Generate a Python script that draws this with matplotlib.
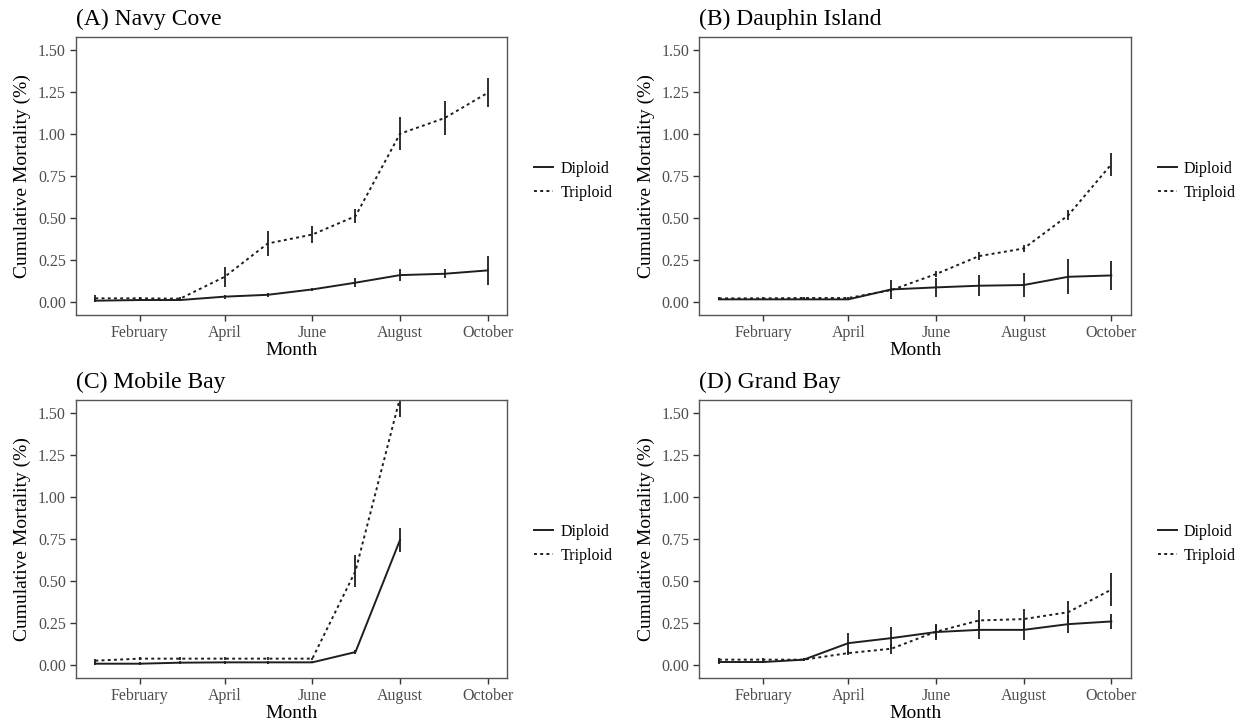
import numpy as np
import matplotlib
matplotlib.use('Agg')
import matplotlib.pyplot as plt
import matplotlib.dates as mdates
from matplotlib.ticker import FormatStrFormatter

plt.rcParams['font.family'] = 'Liberation Serif'

# sampling dates (first of each month)
months = ['2018-01-01', '2018-02-01', '2018-03-01', '2018-04-01', '2018-05-01',
          '2018-06-01', '2018-07-01', '2018-08-01', '2018-09-01', '2018-10-01']
tick_months = ['2018-02-01', '2018-04-01', '2018-06-01', '2018-08-01', '2018-10-01']
tick_labels = ['February', 'April', 'June', 'August', 'October']

nan = np.nan

# (A) Navy Cove
navy_dip = [0.010, 0.014, 0.014, 0.034, 0.045, 0.077, 0.117, 0.162, 0.170, 0.190]
navy_dip_se = [0.010, 0.008, 0.008, 0.012, 0.012, 0.008, 0.027, 0.034, 0.028, 0.084]
navy_tri = [0.024, 0.024, 0.022, 0.152, 0.350, 0.403, 0.512, 1.002, 1.095, 1.245]
navy_tri_se = [0.018, 0.008, 0.008, 0.060, 0.072, 0.052, 0.042, 0.099, 0.099, 0.086]

# (B) Dauphin Island
dauphin_dip = [0.018, 0.018, 0.018, 0.018, 0.077, 0.089, 0.099, 0.103, 0.152, 0.160]
dauphin_dip_se = [0.006, 0.006, 0.006, 0.006, 0.054, 0.056, 0.064, 0.071, 0.103, 0.086]
dauphin_tri = [0.024, 0.024, 0.026, 0.026, 0.073, 0.168, 0.275, 0.320, 0.517, 0.820]
dauphin_tri_se = [0.006, 0.006, 0.006, 0.006, 0.010, 0.020, 0.025, 0.020, 0.030, 0.070]

# (C) Mobile Bay
mobile_dip = [0.010, 0.010, 0.016, 0.018, 0.018, 0.018, 0.079, 0.745, nan, nan]
mobile_dip_se = [0.010, 0.008, 0.008, 0.008, 0.008, 0.006, 0.012, 0.070, nan, nan]
mobile_tri = [0.028, 0.040, 0.040, 0.040, 0.040, 0.040, 0.560, 1.590, nan, nan]
mobile_tri_se = [0.012, 0.008, 0.008, 0.008, 0.008, 0.006, 0.093, 0.115, nan, nan]

# (D) Grand Bay
grand_dip = [0.020, 0.020, 0.034, 0.132, 0.162, 0.198, 0.211, 0.211, 0.245, 0.261]
grand_dip_se = [0.010, 0.008, 0.008, 0.060, 0.064, 0.047, 0.056, 0.061, 0.054, 0.046]
grand_tri = [0.034, 0.034, 0.034, 0.073, 0.099, 0.200, 0.267, 0.275, 0.316, 0.450]
grand_tri_se = [0.012, 0.008, 0.008, 0.012, 0.030, 0.040, 0.060, 0.060, 0.065, 0.100]

panels = [
    ('(A) Navy Cove', navy_dip, navy_dip_se, navy_tri, navy_tri_se),
    ('(B) Dauphin Island', dauphin_dip, dauphin_dip_se, dauphin_tri, dauphin_tri_se),
    ('(C) Mobile Bay', mobile_dip, mobile_dip_se, mobile_tri, mobile_tri_se),
    ('(D) Grand Bay', grand_dip, grand_dip_se, grand_tri, grand_tri_se),
]

W, H = 1246, 725
ax_w, ax_h = 431.6, 277.7
corners = [(75.7, 37.3), (699.3, 37.3), (75.7, 400.3), (699.3, 400.3)]

x = mdates.date2num(np.array(months, dtype='datetime64[D]'))
xt = mdates.date2num(np.array(tick_months, dtype='datetime64[D]'))
pad_days = 0.05 * (x[-1] - x[0])

line_col = '#1e1e1e'

fig = plt.figure(figsize=(W / 100, H / 100), dpi=100)

for (title, dip, dip_se, tri, tri_se), (lx, ty) in zip(panels, corners):
    ax = fig.add_axes([lx / W, 1 - (ty + ax_h) / H, ax_w / W, ax_h / H])

    ax.errorbar(x, dip, yerr=dip_se, fmt='none', ecolor=line_col, elinewidth=1.3, capsize=0)
    ax.errorbar(x, tri, yerr=tri_se, fmt='none', ecolor=line_col, elinewidth=1.3, capsize=0)
    ax.plot(x, dip, color=line_col, lw=1.4, ls='-', label='Diploid')
    ax.plot(x, tri, color=line_col, lw=1.4, ls=(0, (1.5, 1.7)), label='Triploid')

    ax.set_xlim(x[0] - pad_days, x[-1] + pad_days)
    ax.set_ylim(-0.075, 1.575)
    ax.set_xticks(xt)
    ax.set_xticklabels(tick_labels)
    ax.set_yticks([0, 0.25, 0.5, 0.75, 1.0, 1.25, 1.5])
    ax.yaxis.set_major_formatter(FormatStrFormatter('%.2f'))
    ax.tick_params(direction='out', length=4, width=1, color='#333333',
                   labelcolor='#4d4d4d', labelsize=11.5, pad=3)
    for s in ax.spines.values():
        s.set_color('#555555')
        s.set_linewidth(1.0)

    ax.set_xlabel('Month', fontsize=14, labelpad=1)
    ax.set_ylabel('Cumulative Mortality (%)', fontsize=14, labelpad=5)
    ax.set_title(title, loc='left', fontsize=17, pad=9)

    ax.legend(loc='center left', bbox_to_anchor=(1.062, 0.484), frameon=False,
              fontsize=11.5, handlelength=1.2, handletextpad=0.45,
              labelspacing=0.5, borderpad=0, borderaxespad=0)

plt.savefig('out.png', dpi=100)
